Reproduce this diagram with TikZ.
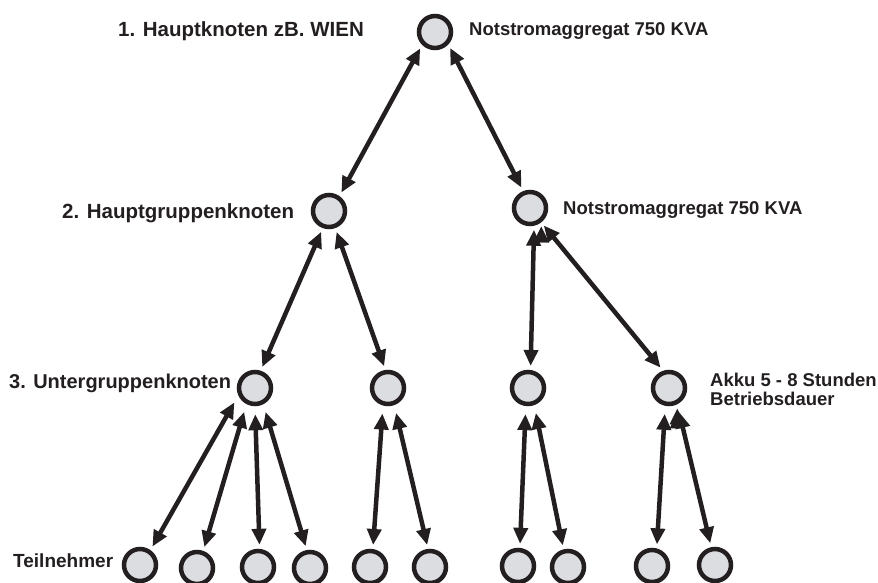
\documentclass[tikz,border=0pt]{standalone}
\usepackage{fontspec}
\setmainfont{Liberation Sans}
\usetikzlibrary{arrows.meta}
\definecolor{knotengrau}{RGB}{220,221,225}
\definecolor{tinte}{RGB}{35,31,32}

\begin{document}
\begin{tikzpicture}[x=1pt, y=-1pt, tinte,
    knoten/.style = {circle, draw=tinte, line width=4.5pt, fill=knotengrau, minimum size=32pt, inner sep=0pt},
    pfeil/.style = {{Triangle[length=16pt,width=14pt]}-{Triangle[length=16pt,width=14pt]}, draw=tinte, line width=4.5pt, shorten >=4pt, shorten <=4pt},
    lbl/.style = {font=\fontsize{20.5}{24}\selectfont\bfseries, inner sep=0pt, anchor=base west},
    note/.style = {font=\fontsize{18.5}{19}\selectfont\bfseries, inner sep=0pt, anchor=base west, align=left}]
    \useasboundingbox (0,0) rectangle (878,583);
    % knoten
    \node[knoten] (t) at (435,32) {};
    \node[knoten] (h1) at (329,211) {};
    \node[knoten] (h2) at (530,208) {};
    \node[knoten] (u1) at (255,388) {};
    \node[knoten] (u2) at (388,388) {};
    \node[knoten] (u3) at (528,388) {};
    \node[knoten] (u4) at (669,388) {};
    \foreach \n/\x/\y in {1/140/565, 2/197/568, 3/258/567, 4/310/568, 5/370/567,
                          6/430/567, 7/518/566, 8/568/567, 9/652/566, 10/715/565}
        \node[knoten] (a\n) at (\x,\y) {};
    % texte
    \node[lbl] (l1) at (118,37) {1. Hauptknoten zB. WIEN};
    \node[note] (n1) at (469,36) {Notstromaggregat 750 KVA};
    \node[lbl] (l2) at (62,218) {2. Hauptgruppenknoten};
    \node[note] (n2) at (563,214) {Notstromaggregat 750 KVA};
    \node[lbl, font=\fontsize{20}{24}\selectfont\bfseries] (l3) at (9,388) {3. Untergruppenknoten};
    \node[note] (n3) at (710,405) {Akku 5 - 8 Stunden\\Betriebsdauer};
    \node[lbl, font=\fontsize{19}{24}\selectfont\bfseries] (tn) at (13,567) {Teilnehmer};
    % pfeile
    \path[pfeil]
        (t.225) edge (h1.55)
        (t.317) edge (h2.112)
        (h1.250) edge (u1.72)
        (h1.290) edge (u2.98)
        (h2.283) edge (u3.82)
        (h2.308) edge (u4.109);
    \path[pfeil, shorten <=8pt]
        (u1.204) edge (a1.55)
        (u1.242) edge (a2.70)
        (u1.270) edge (a3.85)
        (u1.297) edge (a4.100)
        (u2.254) edge (a5.81)
        (u2.290) edge (a6.96)
        (u3.263) edge (a7.84)
        (u3.290) edge (a8.104)
        (u4.258) edge (a9.75)
        (u4.297) edge (a10.102);
\end{tikzpicture}
\end{document}
